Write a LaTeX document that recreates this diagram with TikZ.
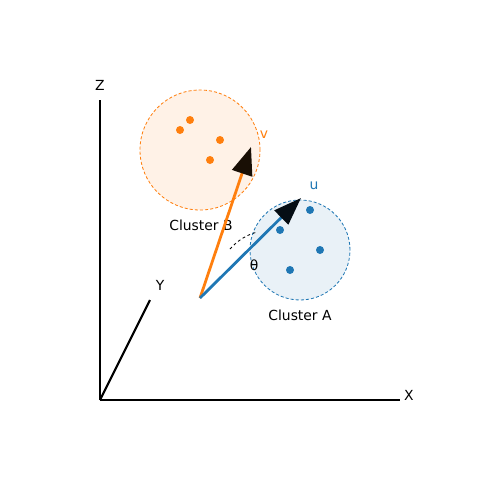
\documentclass[tikz,border=0pt]{standalone}
\usepackage{fontspec}
\setmainfont{DejaVu Sans}
\usetikzlibrary{arrows.meta}
\definecolor{cOrange}{HTML}{FF7F0E}
\definecolor{cBlue}{HTML}{1F77B4}
\definecolor{fOrange}{HTML}{FFF2E7}
\definecolor{fBlue}{HTML}{E9F1F7}
\definecolor{headB}{rgb}{0.10,0.06,0.02}
\definecolor{headA}{rgb}{0.02,0.05,0.08}
\tikzset{
  axis/.style={line width=1.5pt, black},
  lbl/.style={font=\fontsize{10pt}{12pt}\selectfont, inner sep=0pt},
  clusterB/.style={circle, draw=cOrange, fill=fOrange, dash pattern=on 2.2pt off 1.5pt, line width=0.6pt, minimum size=120*0.72pt, inner sep=0pt},
  clusterA/.style={circle, draw=cBlue, fill=fBlue, dash pattern=on 2.2pt off 1.5pt, line width=0.6pt, minimum size=100*0.72pt, inner sep=0pt},
  dotB/.style={circle, fill=cOrange, minimum size=8*0.72pt, inner sep=0pt},
  dotA/.style={circle, fill=cBlue, minimum size=8*0.72pt, inner sep=0pt},
  vecB/.style={line width=2pt, cOrange, -{Triangle[length=20pt, width=15pt, color=headB]}},
  vecA/.style={line width=2pt, cBlue, -{Triangle[length=20pt, width=14pt, color=headA]}},
}
\begin{document}
\begin{tikzpicture}[x=0.72pt, y=-0.72pt]
\useasboundingbox (0,0) rectangle (500,500);
% axes
\coordinate (orig) at (100,400);
\coordinate (xend) at (400,400);
\coordinate (yend) at (150,300);
\coordinate (zend) at (100,100);
\draw[axis] (orig) -- (xend);
\draw[axis] (orig) -- (yend);
\draw[axis] (orig) -- (zend);
\node[lbl] (xl) at (409,395) {X};
\node[lbl] (yl) at (160,285) {Y};
\node[lbl] (zl) at (100,85) {Z};
% clusters
\node[clusterB] (cb) at (200,150) {};
\node[clusterA] (ca) at (300,250) {};
\node[dotB] (b1) at (190,120) {};
\node[dotB] (b2) at (180,130) {};
\node[dotB] (b3) at (220,140) {};
\node[dotB] (b4) at (210,160) {};
\node[dotA] (a1) at (310,210) {};
\node[dotA] (a2) at (280,230) {};
\node[dotA] (a3) at (320,250) {};
\node[dotA] (a4) at (290,270) {};
\node[lbl] (lb) at (201,225) {Cluster B};
\node[lbl] (la) at (300,315) {Cluster A};
% vectors
\coordinate (O) at (200,298);
\coordinate (tv) at (251,147);
\coordinate (tu) at (301,198);
\draw[vecB] (O) -- (tv);
\draw[vecA] (O) -- (tu);
\node[lbl, text=cOrange] (lv) at (264,135) {v};
\node[lbl, text=cBlue] (lu) at (314,186) {u};
% angle
\coordinate (arcs) at (230,249);
\coordinate (arce) at (258,232);
\draw[black, line width=0.6pt, dash pattern=on 2pt off 2pt] (arcs) .. controls (238,240) and (248,234) .. (arce);
\node[lbl] (th) at (254,265) {θ};
\end{tikzpicture}
\end{document}
